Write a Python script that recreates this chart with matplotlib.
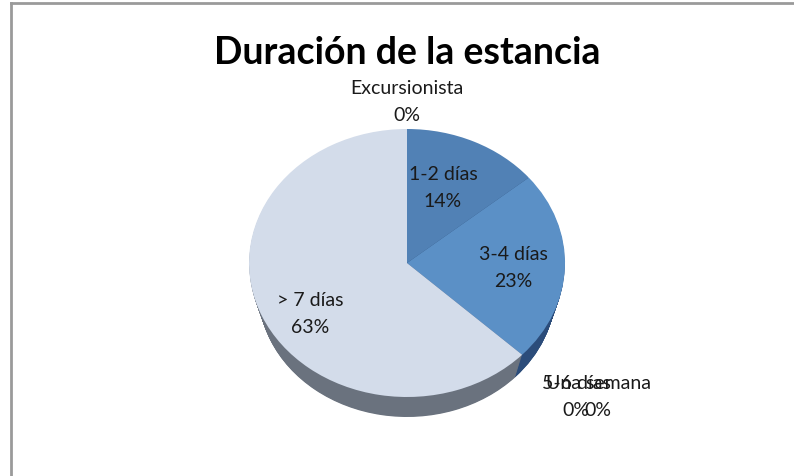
import matplotlib
matplotlib.use("Agg")
import matplotlib.pyplot as plt

# data
labels = ["Excursionista", "1-2 días", "3-4 días", "5-6 días", "Una semana", "> 7 días"]
percents = [0, 14, 23, 0, 0, 63]
top_colors = ["#4a76a8", "#5181b5", "#5b90c6", "#4a6f9c", "#4a6f9c", "#d3dcea"]
side_colors = ["#2c4a74", "#2c4a74", "#2b4c7a", "#2c4a74", "#2c4a74", "#6a727e"]

W, H = 794, 477
plt.rcParams['font.family'] = ['Lato', 'DejaVu Sans']

fig = plt.figure(figsize=(W / 100, H / 100), dpi=100)

# pie geometry in pixels (center, radii, thickness)
cx, cy, rx, ry, depth = 407, 264, 158, 134, 20
ax = fig.add_axes([(cx - 1.25 * rx) / W, 1 - (cy + 1.25 * ry) / H,
                   2.5 * rx / W, 2.5 * ry / H])

# side of the 3d pie: stack of shrinking pies shifted downward (perspective)
n_layers = 30
shrink = 0.06
for i in range(n_layers, 0, -1):
    f = i / n_layers
    r = 1 - shrink * f
    off = (depth / ry + shrink) * f
    ax.pie(percents, colors=side_colors, startangle=90, counterclock=False,
           center=(0, -off), radius=r, wedgeprops=dict(linewidth=0))

ax.pie(percents, colors=top_colors, startangle=90, counterclock=False,
       center=(0, 0), wedgeprops=dict(linewidth=0))
ax.set_aspect('auto')
ax.set_xlim(-1.25, 1.25)
ax.set_ylim(-1.25, 1.25)
ax.axis('off')

def px(x, y):
    return x / W, 1 - y / H

# data labels (name + percent)
label_pos = {
    "Excursionista": (407, 102),
    "1-2 días": (443, 188),
    "3-4 días": (513, 268),
    "> 7 días": (310, 314),
    "5-6 días": (576, 397),
    "Una semana": (598, 397),
}
for name, p in zip(labels, percents):
    x, y = label_pos[name]
    fig.text(*px(x, y), f"{name}\n{p}%", ha='center', va='center',
             fontsize=14, linespacing=1.7, color='#1a1a1a')

fig.text(*px(407, 53), "Duración de la estancia", ha='center', va='center',
         fontsize=27, fontweight='bold', color='black')

# chart frame (only top and left edges are visible)
fig.add_artist(plt.Line2D([11 / W, 11 / W], [0, 1 - 4 / H], transform=fig.transFigure,
                          color='#9a9a9a', linewidth=2))
fig.add_artist(plt.Line2D([11 / W, 1], [1 - 4 / H, 1 - 4 / H], transform=fig.transFigure,
                          color='#9a9a9a', linewidth=2))

fig.savefig("out.png", dpi=100, facecolor='white')
